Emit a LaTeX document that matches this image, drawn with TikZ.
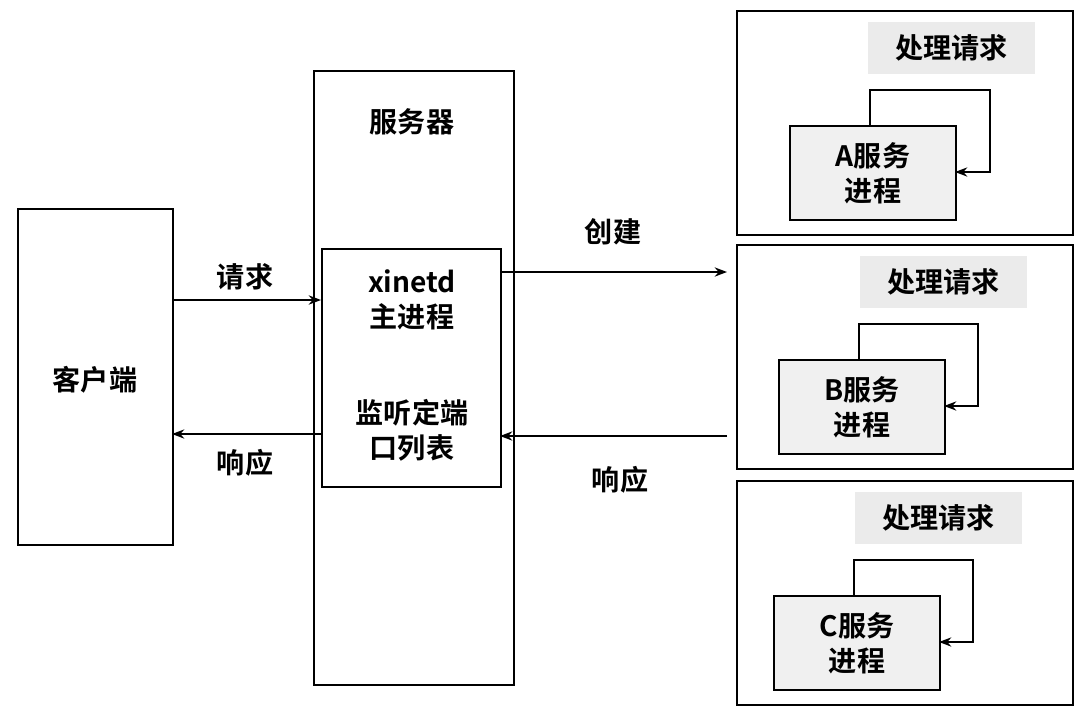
\documentclass[tikz,border=0pt]{standalone}
\usepackage{fontspec}
\newfontfamily\cjk{Noto Sans CJK SC}[BoldFont={Noto Sans CJK SC Bold}]
\usetikzlibrary{arrows.meta}
\tikzset{
  box/.style={draw, line width=1.2pt, anchor=north west, inner sep=0pt},
  proc/.style={draw, line width=1.2pt, fill=black!6, anchor=north west, inner sep=0pt, align=center},
  tag/.style={fill=black!8, anchor=north west, inner sep=0pt},
  lbl/.style={font=\cjk\bfseries\fontsize{16}{20}\selectfont, align=center},
  conn/.style={line width=1pt, -{Stealth[length=7pt]}},
}
\begin{document}
\begin{tikzpicture}[x=0.02cm, y=-0.02cm]
\useasboundingbox (0,0) rectangle (1088,720);
% Kunde und Server
\node[box, minimum width=155*0.02cm, minimum height=336*0.02cm] (client) at (17,208) {};
\node[lbl] (clienttxt) at (95,380) {客户端};
\node[box, minimum width=200*0.02cm, minimum height=614*0.02cm] (server) at (313,70) {};
\node[lbl] (servertxt) at (412,122) {服务器};
\node[box, minimum width=179*0.02cm, minimum height=238*0.02cm] (xinetd) at (321,248) {};
\node[lbl] (main) at (412,300) {xinetd\\主进程};
\node[lbl] (ports) at (412,430) {监听定端\\口列表};
% Pfeile
\coordinate (c1) at (172,300); \coordinate (x1) at (321,300);
\coordinate (x2) at (321,434); \coordinate (c2) at (172,434);
\coordinate (x3) at (500,272); \coordinate (r1) at (727,272);
\coordinate (r2) at (727,436); \coordinate (x4) at (500,436);
\draw[conn] (c1) -- (x1);
\draw[conn] (x2) -- (c2);
\draw[conn] (x3) -- (r1);
\draw[conn] (r2) -- (x4);
\node[lbl] (req) at (245,277) {请求};
\node[lbl] (resp1) at (245,463) {响应};
\node[lbl] (create) at (613,232) {创建};
\node[lbl] (resp2) at (620,480) {响应};
% Dienstprozesse
\foreach \n/\y/\tx/\px/\lx in {A/10/868/789/990, B/244/860/778/978, C/480/855/773/973}{
  \node[box, minimum width=336*0.02cm, minimum height=224*0.02cm] (outer\n) at (736,\y) {};
  \node[tag, minimum width=167*0.02cm, minimum height=52*0.02cm] (tag\n) at (\tx,\y+12) {};
  \node[lbl] at (tag\n.center) {处理请求};
  \node[proc, minimum width=166*0.02cm, minimum height=94*0.02cm] (proc\n) at (\px,\y+115) {};
  \node[lbl] at (proc\n.center) {\n 服务\\进程};
  \draw[line width=1pt, -{Stealth[length=7pt]}] (\px+81,\y+115) -- (\px+81,\y+80) -- (\lx,\y+80) -- (\lx,\y+162) -- (\px+166,\y+162);
}
\end{tikzpicture}
\end{document}
